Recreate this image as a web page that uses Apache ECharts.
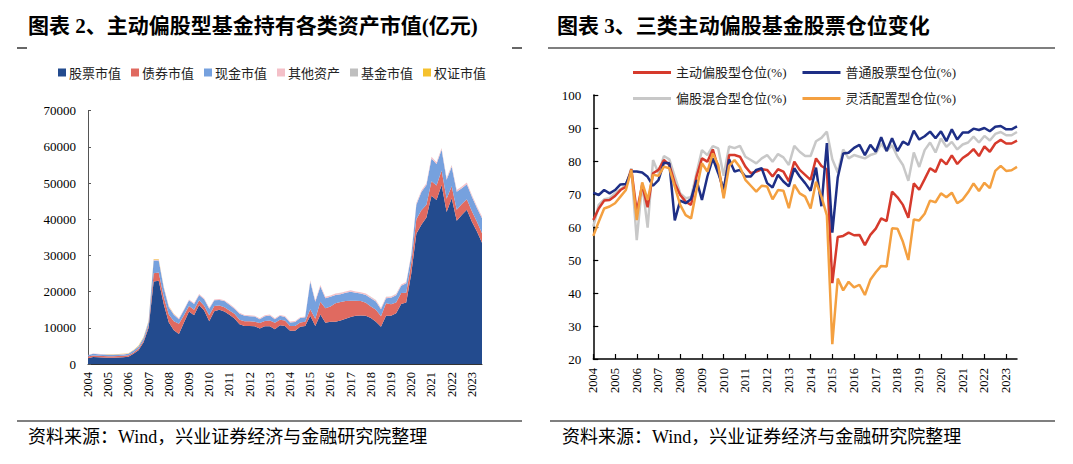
<!DOCTYPE html>
<html><head><meta charset="utf-8">
<script src="https://cdn.jsdelivr.net/npm/echarts@6/dist/echarts.min.js"></script>
<style>html,body{margin:0;padding:0;background:#fff}#c{width:1073px;height:464px}</style>
</head><body><div id="c"></div>
<script>
// quarterly categories 2004Q2 .. 2023Q4
const quarters = [];
for (let y = 2004; y <= 2023; y++) for (const m of ['03','06','09','12']) { if (!(y === 2004 && m === '03')) quarters.push(y + '-' + m); }

// Left chart: holdings by asset class (亿元)
const stockValue = [1600,1900,1850,1800,1750,1750,1800,1850,
 2000,2800,3800,6000,10000,22800,23000,16500,
 11500,9300,8300,11500,14500,13500,16300,14800,
 11800,14600,15000,14500,13600,12600,11000,10500,
 10500,10400,9800,10400,10400,9600,10700,10500,
 9200,9200,10300,10500,13300,10500,13700,11400,
 11700,11700,12000,12500,13000,13300,13400,13300,
 12700,11700,10300,13300,13300,14000,16600,17000,
 25000,36000,38500,40500,46500,45300,49500,42000,
 45800,39600,41200,42600,39300,36600,33500];
const bondValue = [500,450,400,400,400,400,400,400,
 400,400,450,500,700,2300,2300,2000,
 2200,2500,2800,2000,1500,1500,1300,1300,
 1700,1400,1200,1200,1200,1300,1200,1300,
 1300,1300,1500,1500,1600,1800,1500,1500,
 1300,1300,1200,1200,1800,2000,3500,4000,
 4200,5100,5100,4900,4500,4200,4000,3600,
 3200,3300,2900,3500,3200,3000,3000,2700,
 3000,4000,4000,3500,4000,4000,4000,3700,
 3300,3000,3000,2900,2900,2700,2600];
const cashValue = [300,450,450,400,400,400,400,400,
 400,500,600,700,1000,3500,3300,2500,
 2000,1800,1300,1400,1600,1600,1500,1800,
 1800,1600,1500,1700,1600,1400,1700,1500,
 1400,1400,1100,1300,1400,1000,1100,1000,
 1000,1100,1200,1200,7600,4700,4200,2800,
 2700,2300,2200,2300,2500,2200,2100,2200,
 2300,2300,1900,1400,1800,2000,2000,2600,
 2000,4000,5000,5500,6300,6000,5700,5200,
 5400,5000,4400,4200,4000,3800,4200];
const otherValue = [100,100,100,100,100,100,100,100,
 100,100,150,150,200,300,300,300,
 250,250,250,250,250,250,250,250,
 250,250,250,250,250,250,250,250,
 250,250,250,250,250,250,250,250,
 250,250,250,250,400,400,400,400,
 350,350,350,350,350,350,350,350,
 350,350,350,350,350,350,350,350,
 400,450,450,450,450,450,450,450,
 450,450,450,450,450,450,450];
const fundValue = [0,0,0,0,0,0,0,0,0,0,0,0,0,0,0,0,0,0,0,0,
 0,0,0,0,0,0,0,0,0,0,0,0,0,0,0,0,0,0,0,0,
 0,0,0,0,10,10,10,10,10,10,10,10,10,10,10,10,10,10,10,10,
 20,30,30,30,30,30,30,30,30,30,30,30,30,30,30,30,30,30,30];
const warrantValue = [0,0,0,0,20,40,60,80,80,80,100,100,100,150,120,80,60,40,20,0,
 0,0,0,0,0,0,0,0,0,0,0,0,0,0,0,0,0,0,0,0,
 0,0,0,0,0,0,0,0,0,0,0,0,0,0,0,0,0,0,0,0,
 0,0,0,0,0,0,0,0,0,0,0,0,0,0,0,0,0,0,0];

// Right chart: stock positions (%)
const activeEquity = [62.1,65.6,68.0,68.2,69.4,71.2,72.2,77.5,64.6,72.7,
 66.0,76.3,77.3,80.3,78.8,73.2,69.7,67.7,66.7,75.3,
 80.8,79.8,83.5,77.8,69.7,81.8,81.8,81.3,78.3,76.3,
 76.8,77.5,77.3,75.3,77.5,76.8,73.8,79.8,77.3,75.8,
 74.3,80.8,78.5,77.5,43.0,57.0,57.3,58.3,57.5,57.6,
 54.5,57.6,59.5,62.6,61.8,70.7,69.0,66.7,62.8,73.2,
 71.3,74.5,77.8,76.7,80.5,79.0,81.7,79.1,80.9,82.0,
 83.6,81.5,84.4,82.8,85.3,86.4,85.3,85.3,86.2];
const commonStock = [70.4,69.7,71.2,70.2,71.2,72.9,73.0,76.8,76.8,76.5,
 75.2,72.5,74.2,79.5,79.3,62.0,68.0,67.2,68.5,74.2,
 68.2,75.3,80.8,76.3,71.5,80.5,76.8,77.3,75.3,75.3,
 77.3,77.8,73.3,72.0,75.8,73.8,72.3,77.8,75.3,73.3,
 71.0,78.0,66.3,85.4,58.3,75.0,82.3,82.5,84.0,84.9,
 81.8,84.9,82.8,87.2,83.0,86.9,83.0,85.9,84.9,89.2,
 86.5,87.5,88.9,86.9,89.0,86.0,89.6,86.5,88.6,88.6,
 89.8,89.4,90.0,89.0,90.4,90.6,89.6,89.6,90.5];
const equityHybrid = [60.1,66.7,68.4,68.7,70.2,71.4,72.7,77.8,56.0,73.2,
 59.8,80.3,76.3,81.5,80.5,75.3,70.2,68.7,69.0,76.3,
 83.3,81.8,84.5,83.8,75.5,84.4,83.9,84.6,81.3,80.3,
 79.3,80.8,81.8,79.8,82.1,81.1,78.8,84.6,82.8,81.5,
 81.5,86.0,87.0,88.9,80.5,76.5,83.5,80.8,81.8,81.3,
 80.8,81.8,82.3,85.2,83.0,84.8,81.3,78.8,74.0,82.6,
 78.2,83.3,85.6,82.6,86.8,84.3,85.8,83.5,85.0,85.6,
 87.4,85.6,87.6,86.2,88.2,88.8,87.8,87.8,88.8];
const flexible = [57.3,61.6,65.6,66.2,67.2,69.2,71.2,77.3,62.1,73.5,
 68.2,75.8,75.5,78.3,77.8,72.2,66.7,63.6,62.6,71.2,
 79.3,76.8,82.3,78.8,68.7,78.5,80.3,78.1,74.3,72.5,
 70.7,72.5,72.3,68.4,71.2,71.0,65.7,72.8,70.2,69.2,
 65.6,73.7,69.2,63.5,24.5,44.4,40.8,43.4,41.7,42.5,
 39.4,44.0,46.3,48.2,48.0,59.6,59.5,55.5,50.0,62.3,
 62.0,64.0,68.0,67.5,70.2,69.0,70.4,67.2,68.3,70.5,
 73.2,70.9,73.4,71.8,77.0,78.5,77.0,77.2,78.2];

const leftTicks = [0, 70000, 10000];
const rightTicks = [20, 100, 10];

const SERIF = "'Liberation Serif','Noto Sans CJK SC',serif";
const CJK = "'Noto Sans CJK SC','Liberation Serif',sans-serif";

const chart = echarts.init(document.getElementById('c'), null, {renderer: 'svg'});

function area(name, data, color) {
  return {name, type: 'line', stack: 'total', data, xAxisIndex: 0, yAxisIndex: 0,
    symbol: 'none', lineStyle: {width: 0}, areaStyle: {color, opacity: 1}, itemStyle: {color}};
}
function line(name, data, color, z) {
  return {name, type: 'line', data, xAxisIndex: 1, yAxisIndex: 1, z,
    symbol: 'none', lineStyle: {width: 2.5, color}, itemStyle: {color}};
}
const yearFmt = v => v.slice(0, 4);
const plainFmt = v => String(v);

chart.setOption({
  animation: false,
  backgroundColor: '#fff',
  grid: [
    {left: 88, top: 110.7, width: 394, bottom: 100},
    {left: 593.3, top: 95, right: 56, bottom: 105}
  ],
  legend: [
    {data: ['股票市值','债券市值','现金市值','其他资产','基金市值','权证市值'], left: 58, top: 66, padding: 0,
     icon: 'rect', itemWidth: 8, itemHeight: 8, itemGap: 10,
     textStyle: {fontSize: 13, color: '#222', fontFamily: CJK, padding: [0,0,0,-2]}},
    {data: ['主动偏股型仓位(%)','普通股票型仓位(%)'], left: 633, top: 66, padding: 0,
     icon: 'rect', itemWidth: 38, itemHeight: 3, itemGap: 16,
     textStyle: {fontSize: 13, color: '#222', fontFamily: SERIF}},
    {data: ['偏股混合型仓位(%)','灵活配置型仓位(%)'], left: 633, top: 92, padding: 0,
     icon: 'rect', itemWidth: 38, itemHeight: 3, itemGap: 16,
     textStyle: {fontSize: 13, color: '#222', fontFamily: SERIF}}
  ],
  xAxis: [
    {type: 'category', gridIndex: 0, data: quarters, boundaryGap: false,
     axisLine: {lineStyle: {color: '#333', width: 1}}, axisTick: {show: false},
     axisLabel: {interval: 3, rotate: 90, margin: 8, fontSize: 12.5, color: '#000', fontFamily: SERIF, formatter: yearFmt}},
    {type: 'category', gridIndex: 1, data: quarters, boundaryGap: false,
     axisLine: {lineStyle: {color: '#000', width: 1.5}},
     axisTick: {show: true, inside: true, length: 5, interval: 3, lineStyle: {color: '#000', width: 1.2}},
     axisLabel: {interval: 3, rotate: 90, margin: 9, fontSize: 12.5, color: '#000', fontFamily: SERIF, formatter: yearFmt}}
  ],
  yAxis: [
    {type: 'value', gridIndex: 0, min: leftTicks[0], max: leftTicks[1], interval: leftTicks[2],
     axisLine: {show: true, lineStyle: {color: '#555', width: 1}},
     axisTick: {show: true, inside: true, length: 3, lineStyle: {color: '#555'}},
     splitLine: {show: false},
     axisLabel: {margin: 12, fontSize: 13, color: '#000', fontFamily: SERIF, formatter: plainFmt}},
    {type: 'value', gridIndex: 1, min: rightTicks[0], max: rightTicks[1], interval: rightTicks[2],
     axisLine: {show: true, lineStyle: {color: '#000', width: 1.5}},
     axisTick: {show: true, inside: true, length: 5, lineStyle: {color: '#000', width: 1.2}},
     splitLine: {show: false},
     axisLabel: {margin: 12, fontSize: 13, color: '#000', fontFamily: SERIF, formatter: plainFmt}}
  ],
  series: [
    area('股票市值', stockValue, '#234B8E'),
    area('债券市值', bondValue, '#E06A60'),
    area('现金市值', cashValue, '#76A1DE'),
    area('其他资产', otherValue, '#F4C0C8'),
    area('基金市值', fundValue, '#BFBFBF'),
    area('权证市值', warrantValue, '#F5C12E'),
    line('偏股混合型仓位(%)', equityHybrid, '#C8C8C8', 2),
    line('主动偏股型仓位(%)', activeEquity, '#D63A2C', 3),
    line('普通股票型仓位(%)', commonStock, '#1E2F86', 4),
    line('灵活配置型仓位(%)', flexible, '#F4A040', 5)
  ],
  graphic: [
    {type: 'text', left: 28, top: 15, style: {text: '图表 2、主动偏股型基金持有各类资产市值(亿元)', font: "bold 21px 'Liberation Serif','Noto Sans CJK SC',serif", fill: '#000'}},
    {type: 'text', left: 557, top: 15, style: {text: '图表 3、三类主动偏股基金股票仓位变化', font: "bold 21px 'Liberation Serif','Noto Sans CJK SC',serif", fill: '#000'}},
    {type: 'line', shape: {x1: 17, y1: 48, x2: 27, y2: 48}, style: {stroke: '#000', lineWidth: 1.2}},
    {type: 'line', shape: {x1: 512, y1: 48, x2: 522, y2: 48}, style: {stroke: '#000', lineWidth: 1.2}},
    {type: 'line', shape: {x1: 548, y1: 48, x2: 1055, y2: 48}, style: {stroke: '#000', lineWidth: 1.2}},
    {type: 'line', shape: {x1: 17, y1: 421, x2: 522, y2: 421}, style: {stroke: '#000', lineWidth: 1.2}},
    {type: 'line', shape: {x1: 550, y1: 421, x2: 1055, y2: 421}, style: {stroke: '#000', lineWidth: 1.2}},
    {type: 'text', left: 28, top: 428, style: {text: '资料来源：Wind，兴业证券经济与金融研究院整理', font: "18px 'Liberation Serif','Noto Sans CJK SC',serif", fill: '#000'}},
    {type: 'text', left: 562, top: 428, style: {text: '资料来源：Wind，兴业证券经济与金融研究院整理', font: "18px 'Liberation Serif','Noto Sans CJK SC',serif", fill: '#000'}}
  ]
});
</script></body></html>
